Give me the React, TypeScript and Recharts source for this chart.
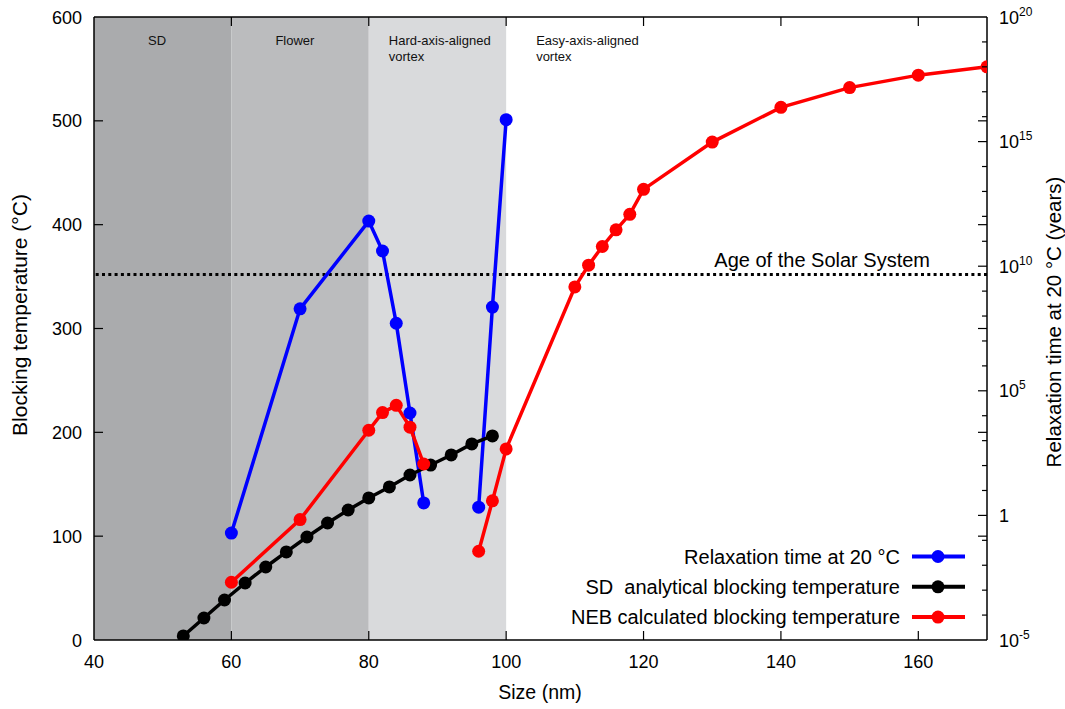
import React from "react"
import { LineChart, Line, XAxis, YAxis, ReferenceArea, ReferenceLine, Legend } from "recharts"

// size axis (nm)
const sizeTicks = [40, 60, 80, 100, 120, 140, 160]
const sizeDomain = [40, 170]

// left axis: blocking temperature (°C)
const tempTicks = [0, 100, 200, 300, 400, 500, 600]
const tempDomain = [0, 600]

// right axis: log10 of relaxation time (years)
const decadeTicks = [-5, -4, -3, -2, -1, 0, 1, 2, 3, 4, 5, 6, 7, 8, 9, 10, 11, 12, 13, 14, 15, 16, 17, 18, 19, 20]
const decadeDomain = [-5, 20]

// domain state bands
const bandStart = [40, 60, 80, 100]
const bandEnd = [60, 80, 100, 170]
const bandNames = [["SD"], ["Flower"], ["Hard-axis-aligned", "vortex"], ["Easy-axis-aligned", "vortex"]]

const solarSystemAgeYears = 4.6e9
const solarSystemLabel = "Age of the Solar System"

// relaxation time at 20 °C, log10(years)
const relaxSize = [60, 70, 80, 82, 84, 86, 88, 96, 98, 100]
const relaxLog10 = [-0.71, 8.29, 11.81, 10.61, 7.71, 4.11, 0.5, 0.33, 8.36, 15.88]
const relaxBreak = 7

// SD analytical blocking temperature
const sdSize = [53, 56, 59, 62, 65, 68, 71, 74, 77, 80, 83, 86, 89, 92, 95, 98]
const sdTemp = [3.9, 21.2, 38.5, 54.9, 70.3, 84.8, 99.2, 112.7, 125.2, 136.8, 147.4, 158.9, 168.5, 178.2, 188.8, 196.5]

// NEB calculated blocking temperature
const nebSize = [60, 70, 80, 82, 84, 86, 88, 96, 98, 100, 110, 112, 114, 116, 118, 120, 130, 140, 150, 160, 170]
const nebTemp = [55.6, 116, 202, 219, 226, 205, 169.5, 85.5, 134, 184, 340, 361, 379, 395, 410, 434, 479.5, 513, 532, 544, 552]
const nebBreak = 7

const seriesNames = ["Relaxation time at 20 °C", "SD  analytical blocking temperature", "NEB calculated blocking temperature"]
const seriesColors = ["#0000ff", "#000000", "#ff0000"]

const font = '"Liberation Sans", Arial, Helvetica, sans-serif'
const W = 1065
const H = 709
const PLOT_LEFT = 94
const PLOT_RIGHT = 987
const PLOT_TOP = 17
const PLOT_BOTTOM = 640

const bandFills = ["#aaabad", "#bbbcbe", "#d9dadc", "none"]
const bandLabelDx = [54, 44, 20, 30]

const toPoints = (xs: number[], ys: number[]) => xs.map((size, i) => ({ size, value: ys[i] }))

const relaxA = toPoints(relaxSize.slice(0, relaxBreak), relaxLog10.slice(0, relaxBreak))
const relaxB = toPoints(relaxSize.slice(relaxBreak), relaxLog10.slice(relaxBreak))
const sdData = toPoints(sdSize, sdTemp)
const nebA = toPoints(nebSize.slice(0, nebBreak), nebTemp.slice(0, nebBreak))
const nebB = toPoints(nebSize.slice(nebBreak), nebTemp.slice(nebBreak))

function XTick({ x, payload }: any) {
  const inner = payload.value !== sizeDomain[0]
  return (
    <g>
      <text x={x} y={668} textAnchor="middle" fontSize={18} fontFamily={font} fill="#000">
        {payload.value}
      </text>
      {inner && <line x1={x} x2={x} y1={PLOT_BOTTOM} y2={PLOT_BOTTOM - 9} stroke="#000" strokeWidth={1.2} />}
      {inner && <line x1={x} x2={x} y1={PLOT_TOP} y2={PLOT_TOP + 9} stroke="#000" strokeWidth={1.2} />}
    </g>
  )
}

function LeftTick({ y, payload }: any) {
  const v = payload.value
  const inner = v !== tempDomain[0] && v !== tempDomain[1]
  return (
    <g>
      <text x={82} y={y} dy={6.5} textAnchor="end" fontSize={18} fontFamily={font} fill="#000">
        {v}
      </text>
      {inner && <line x1={PLOT_LEFT} x2={PLOT_LEFT + 9} y1={y} y2={y} stroke="#000" strokeWidth={1.2} />}
      {inner && <line x1={PLOT_RIGHT} x2={PLOT_RIGHT - 9} y1={y} y2={y} stroke="#000" strokeWidth={1.2} />}
    </g>
  )
}

function RightTick({ y, payload }: any) {
  const v = payload.value
  const major = v % 5 === 0
  const inner = v !== decadeDomain[0] && v !== decadeDomain[1]
  return (
    <g>
      {inner && (
        <line x1={PLOT_RIGHT} x2={PLOT_RIGHT - (major ? 9 : 5)} y1={y} y2={y} stroke="#000" strokeWidth={1.2} />
      )}
      {major && (
        <text x={999} y={y} dy={6.5} textAnchor="start" fontSize={18} fontFamily={font} fill="#000">
          {v === 0 ? (
            "1"
          ) : (
            <>
              10
              <tspan fontSize={12} dy={-8}>
                {v}
              </tspan>
            </>
          )}
        </text>
      )}
    </g>
  )
}

function BandLabel({ viewBox, lines, dx }: any) {
  return (
    <text x={viewBox.x + dx} y={viewBox.y + 28} fontSize={13} fontFamily={font} fill="#111">
      {lines.map((t: string, i: number) => (
        <tspan key={i} x={viewBox.x + dx} dy={i === 0 ? 0 : 15.5}>
          {t}
        </tspan>
      ))}
    </text>
  )
}

function AgeLabel({ viewBox }: any) {
  return (
    <text x={viewBox.x + viewBox.width - 57} y={viewBox.y - 8} textAnchor="end" fontSize={20} fontFamily={font} fill="#000">
      {solarSystemLabel}
    </text>
  )
}

function LegendBox() {
  return (
    <svg width={440} height={95}>
      {seriesNames.map((name, i) => {
        const cy = 16.5 + i * 30.3
        return (
          <g key={name}>
            <text x={360} y={cy + 7} textAnchor="end" fontSize={20} fontFamily={font} fill="#000" style={{ whiteSpace: "pre" }}>
              {name}
            </text>
            <line x1={372} x2={425} y1={cy} y2={cy} stroke={seriesColors[i]} strokeWidth={4} />
            <circle cx={398} cy={cy} r={6.5} fill={seriesColors[i]} />
          </g>
        )
      })}
    </svg>
  )
}

function YTitleLeft() {
  return (
    <text transform="translate(27, 315) rotate(-90)" textAnchor="middle" fontSize={21} fontFamily={font} fill="#000">
      Blocking temperature (°C)
    </text>
  )
}

function YTitleRight() {
  return (
    <text transform="translate(1061, 322) rotate(-90)" textAnchor="middle" fontSize={20.5} fontFamily={font} fill="#000">
      Relaxation time at 20 °C (years)
    </text>
  )
}

function XTitle() {
  return (
    <text x={540} y={699} textAnchor="middle" fontSize={19.5} fontFamily={font} fill="#000">
      Size (nm)
    </text>
  )
}

export default function App() {
  const dot = (c: string) => ({ r: 6.5, fill: c, stroke: c, strokeWidth: 0 })
  return (
    <div style={{ position: "absolute", left: 0, top: 0, width: W, height: H, background: "#fff", fontFamily: font }}>
      <LineChart width={W} height={H} margin={{ top: PLOT_TOP, right: 0, bottom: 0, left: 0 }}>
        <XAxis
          dataKey="size"
          type="number"
          domain={sizeDomain}
          ticks={sizeTicks}
          interval={0}
          height={H - PLOT_BOTTOM}
          allowDataOverflow
          tickLine={false}
          axisLine={{ stroke: "#000", strokeWidth: 1.5 }}
          tick={<XTick />}
          label={<XTitle />}
        />
        <YAxis
          yAxisId="left"
          type="number"
          domain={tempDomain}
          ticks={tempTicks}
          interval={0}
          width={PLOT_LEFT}
          allowDataOverflow
          tickLine={false}
          axisLine={{ stroke: "#000", strokeWidth: 1.5 }}
          tick={<LeftTick />}
          label={<YTitleLeft />}
        />
        <YAxis
          yAxisId="right"
          orientation="right"
          type="number"
          domain={decadeDomain}
          ticks={decadeTicks}
          interval={0}
          width={W - PLOT_RIGHT}
          allowDataOverflow
          tickLine={false}
          axisLine={{ stroke: "#000", strokeWidth: 1.5 }}
          tick={<RightTick />}
          label={<YTitleRight />}
        />
        {bandStart.map((x1, i) => (
          <ReferenceArea
            key={i}
            yAxisId="left"
            x1={x1}
            x2={bandEnd[i]}
            y1={tempDomain[0]}
            y2={tempDomain[1]}
            fill={bandFills[i]}
            fillOpacity={1}
            stroke="none"
            label={<BandLabel lines={bandNames[i]} dx={bandLabelDx[i]} />}
          />
        ))}
        <ReferenceLine yAxisId="left" y={tempDomain[1]} stroke="#000" strokeWidth={1.5} />
        <ReferenceLine
          yAxisId="right"
          y={Math.log10(solarSystemAgeYears)}
          stroke="#000"
          strokeWidth={3}
          strokeDasharray="3 3.3"
          label={<AgeLabel />}
        />
        <Line yAxisId="right" data={relaxA} dataKey="value" stroke={seriesColors[0]} strokeWidth={3.5} dot={dot(seriesColors[0])} activeDot={false} isAnimationActive={false} legendType="none" />
        <Line yAxisId="right" data={relaxB} dataKey="value" stroke={seriesColors[0]} strokeWidth={3.5} dot={dot(seriesColors[0])} activeDot={false} isAnimationActive={false} legendType="none" />
        <Line yAxisId="left" data={sdData} dataKey="value" stroke={seriesColors[1]} strokeWidth={3.5} dot={dot(seriesColors[1])} activeDot={false} isAnimationActive={false} legendType="none" />
        <Line yAxisId="left" data={nebA} dataKey="value" stroke={seriesColors[2]} strokeWidth={3.5} dot={dot(seriesColors[2])} activeDot={false} isAnimationActive={false} legendType="none" />
        <Line yAxisId="left" data={nebB} dataKey="value" stroke={seriesColors[2]} strokeWidth={3.5} dot={dot(seriesColors[2])} activeDot={false} isAnimationActive={false} legendType="none" />
        <Legend
          layout="vertical"
          align="center"
          verticalAlign="middle"
          content={<LegendBox />}
          wrapperStyle={{ position: "absolute", left: 540, top: 540, width: 440, height: 95 }}
        />
      </LineChart>
    </div>
  )
}
